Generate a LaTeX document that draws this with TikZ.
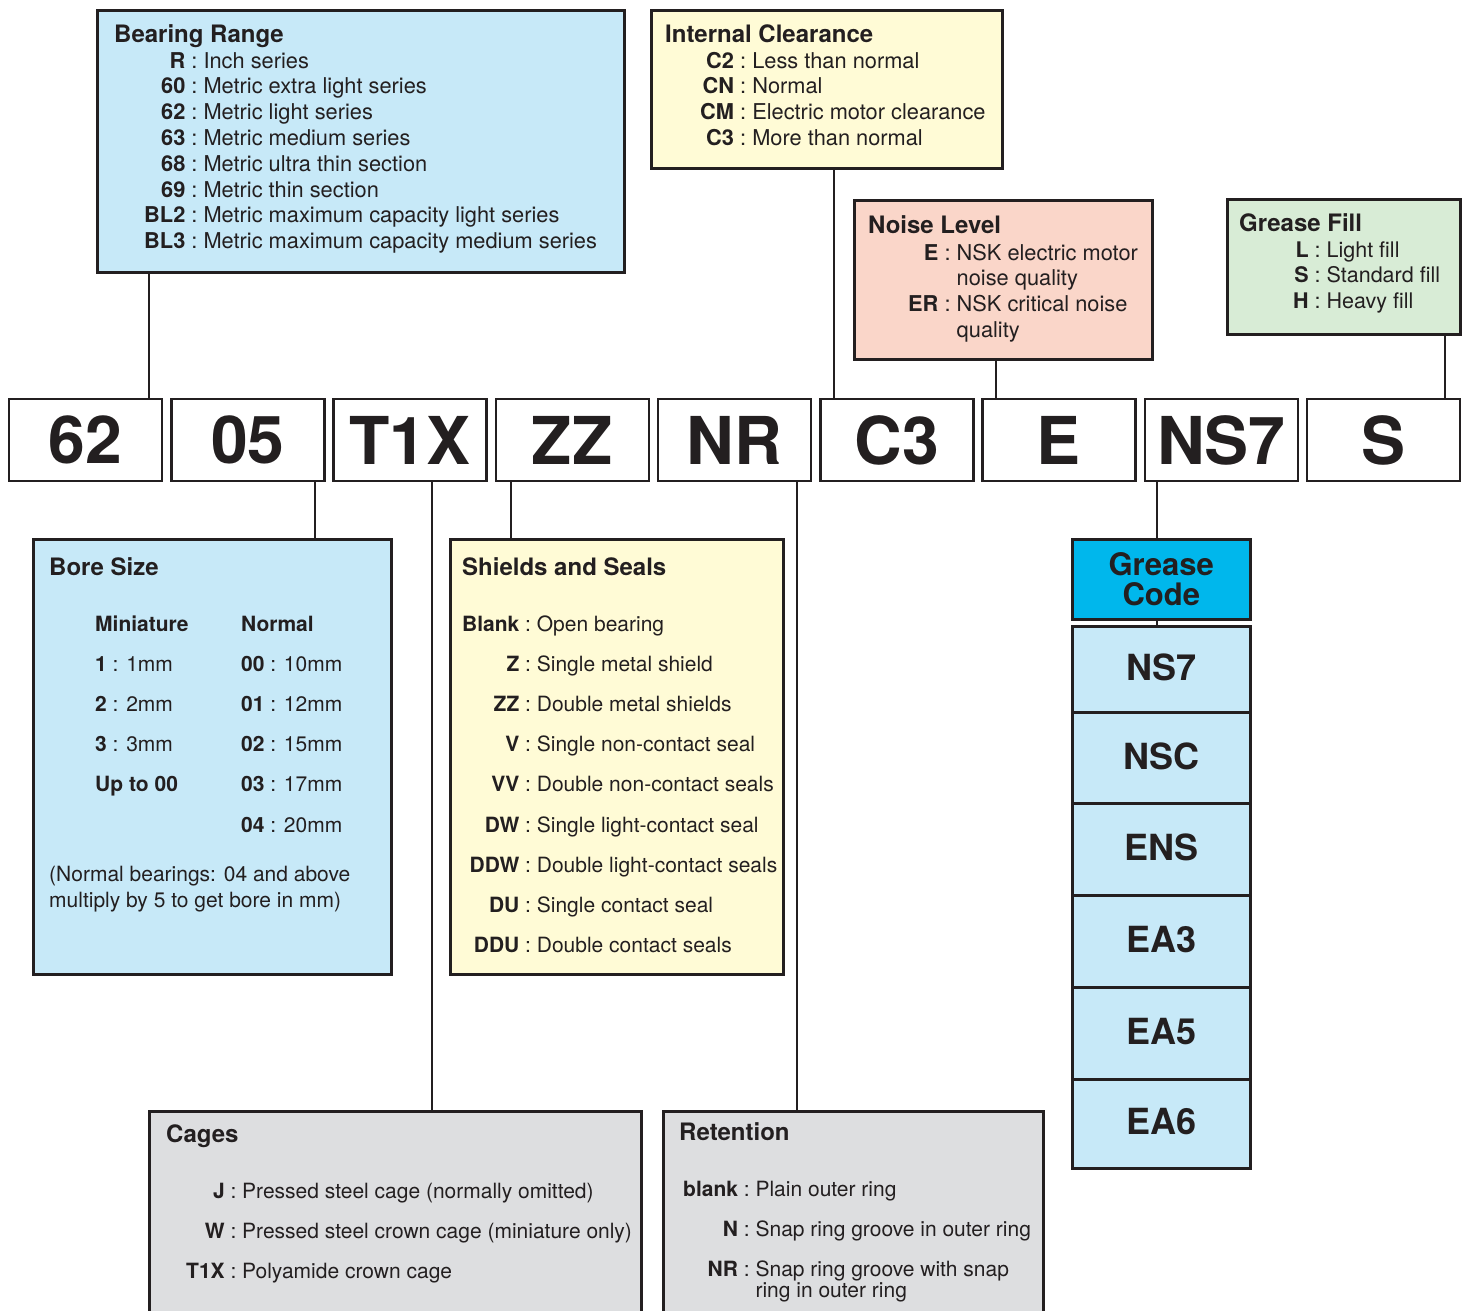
\documentclass[tikz,border=0pt]{standalone}
\usepackage{fontspec}
\setmainfont{TeX Gyre Heros}

\definecolor{rangeblue}{RGB}{199,233,248}
\definecolor{clearyellow}{RGB}{255,251,214}
\definecolor{noisepink}{RGB}{250,214,201}
\definecolor{fillgreen}{RGB}{216,236,214}
\definecolor{codecyan}{RGB}{0,183,236}
\definecolor{cagegray}{RGB}{221,222,224}
\definecolor{ink}{RGB}{35,31,32}

\newcommand{\bodyfont}{\fontsize{21.8}{25.8}\selectfont}
\newcommand{\widefont}{\fontsize{21}{40.2}\selectfont}

\tikzset{
  box/.style={draw=ink, line width=2.5pt, anchor=north west, inner sep=0pt},
  link/.style={draw=ink, line width=2pt},
  title/.style={anchor=base west, inner sep=0pt, text=ink, font=\fontsize{24}{28}\selectfont\bfseries},
  list/.style={anchor=base west, inner sep=0pt, text=ink},
  codebox/.style={draw=ink, line width=2.5pt, fill=white, minimum width=153pt, minimum height=82pt,
    inner sep=0pt, text=ink, font=\fontsize{66}{70}\selectfont\bfseries},
  cell/.style={box, fill=rangeblue, minimum width=178pt, text=ink,
    font=\fontsize{36}{40}\selectfont\bfseries}
}

\begin{document}
\begin{tikzpicture}[x=1pt, y=-1pt]

	\useasboundingbox (0,0) rectangle (1468,1310);
	\fill[white] (0,0) rectangle (1468,1310);

	% code row
	\foreach \c [count=\i from 0] in {62,05,T1X,ZZ,NR,C3,E,NS7,S}
		\node[codebox] (code\c) at ({85.5+\i*162.25},440) {\c};

	% bearing range
	\node[box, fill=rangeblue, minimum width=527pt, minimum height=262pt] (range) at (96,9) {};
	\node[title] (rangetitle) at (114,42) {Bearing Range};
	\node[list, font=\bodyfont] (rangelist) at (144,68) {\begin{tabular}[t]{@{}r@{\ :\ }l@{}}
		\textbf{R} & Inch series\\
		\textbf{60} & Metric extra light series\\
		\textbf{62} & Metric light series\\
		\textbf{63} & Metric medium series\\
		\textbf{68} & Metric ultra thin section\\
		\textbf{69} & Metric thin section\\
		\textbf{BL2} & Metric maximum capacity light series\\
		\textbf{BL3} & Metric maximum capacity medium series
	\end{tabular}};

	% internal clearance
	\node[box, fill=clearyellow, minimum width=351pt, minimum height=158pt] (clear) at (650,9) {};
	\node[title] (cleartitle) at (665,42) {Internal Clearance};
	\node[list, font=\bodyfont] (clearlist) at (700,68) {\begin{tabular}[t]{@{}r@{\ :\ }l@{}}
		\textbf{C2} & Less than normal\\
		\textbf{CN} & Normal\\
		\textbf{CM} & Electric motor clearance\\
		\textbf{C3} & More than normal
	\end{tabular}};

	% noise level
	\node[box, fill=noisepink, minimum width=298pt, minimum height=159pt] (noise) at (853,199) {};
	\node[title] (noisetitle) at (868,233) {Noise Level};
	\node[list, font=\bodyfont] (noiselist) at (908,260) {\begin{tabular}[t]{@{}r@{}l@{}}
		\textbf{E} & \ :\ NSK electric motor\\
		& \phantom{\ :\ }noise quality\\
		\textbf{ER} & \ :\ NSK critical noise\\
		& \phantom{\ :\ }quality
	\end{tabular}};

	% grease fill
	\node[box, fill=fillgreen, minimum width=233pt, minimum height=135pt] (fill) at (1226,198) {};
	\node[title] (filltitle) at (1239,231) {Grease Fill};
	\node[list, font=\fontsize{21.5}{25.5}\selectfont] (filllist) at (1293,257) {\begin{tabular}[t]{@{}r@{\ :\ }l@{}}
		\textbf{L} & Light fill\\
		\textbf{S} & Standard fill\\
		\textbf{H} & Heavy fill
	\end{tabular}};

	% bore size
	\node[box, fill=rangeblue, minimum width=358pt, minimum height=435pt] (bore) at (32,538) {};
	\node[title] (boretitle) at (49,575) {Bore Size};
	\node[list, font=\widefont] (borelist) at (95,631) {\begin{tabular}[t]{@{}p{146pt}@{}l@{}}
		\textbf{Miniature} & \textbf{Normal}\\
		\textbf{1} : 1mm & \textbf{00} : 10mm\\
		\textbf{2} : 2mm & \textbf{01} : 12mm\\
		\textbf{3} : 3mm & \textbf{02} : 15mm\\
		\textbf{Up to 00} & \textbf{03} : 17mm\\
		& \textbf{04} : 20mm
	\end{tabular}};
	\node[list, font=\fontsize{21}{26}\selectfont] (borenote) at (49,881) {\begin{tabular}[t]{@{}l@{}}
		(Normal bearings: 04 and above\\
		multiply by 5 to get bore in mm)
	\end{tabular}};

	% shields and seals
	\node[box, fill=clearyellow, minimum width=333pt, minimum height=435pt] (shield) at (449,538) {};
	\node[title] (shieldtitle) at (462,575) {Shields and Seals};
	\node[list, font=\widefont] (shieldlist) at (462,631) {\begin{tabular}[t]{@{}r@{\ :\ }l@{}}
		\textbf{Blank} & Open bearing\\
		\textbf{Z} & Single metal shield\\
		\textbf{ZZ} & Double metal shields\\
		\textbf{V} & Single non-contact seal\\
		\textbf{VV} & Double non-contact seals\\
		\textbf{DW} & Single light-contact seal\\
		\textbf{DDW} & Double light-contact seals\\
		\textbf{DU} & Single contact seal\\
		\textbf{DDU} & Double contact seals
	\end{tabular}};

	% grease code
	\node[box, fill=codecyan, minimum width=178pt, minimum height=80pt, align=center, text=ink,
		font=\fontsize{31}{32}\selectfont\bfseries] (gcode) at (1071,538) {Grease\\[-2pt]Code};
	\foreach \g/\top/\high in {NS7/625/86, NSC/711/91, ENS/802/92, EA3/894/92, EA5/986/92, EA6/1078/89}
		\node[cell, minimum height=\high pt] (g\g) at (1071,\top) {\raisebox{4pt}{\g}};

	% cages
	\node[box, fill=cagegray, minimum width=492pt, minimum height=230pt] (cages) at (148,1110) {};
	\node[title] (cagestitle) at (166,1142) {Cages};
	\node[list, font=\widefont] (cageslist) at (186,1198) {\begin{tabular}[t]{@{}r@{\ :\ }l@{}}
		\textbf{J} & Pressed steel cage (normally omitted)\\
		\textbf{W} & Pressed steel crown cage (miniature only)\\
		\textbf{T1X} & Polyamide crown cage
	\end{tabular}};

	% retention
	\node[box, fill=cagegray, minimum width=380pt, minimum height=230pt] (retain) at (662,1110) {};
	\node[title] (retaintitle) at (679,1140) {Retention};
	\node[list, font=\widefont] (retainlist) at (683,1196) {\begin{tabular}[t]{@{}r@{\ :\ }l@{}}
		\textbf{blank} & Plain outer ring\\
		\textbf{N} & Snap ring groove in outer ring\\
		\textbf{NR} & {\fontsize{21}{20}\selectfont\begin{tabular}[t]{@{}l@{}}Snap ring groove with snap\\ring in outer ring\end{tabular}}
	\end{tabular}};

	% connectors
	\coordinate (xrange) at (149,0);
	\coordinate (xclear) at (834,0);
	\coordinate (xnoise) at (996,0);
	\coordinate (xfill) at (1445,0);
	\coordinate (xbore) at (315,0);
	\coordinate (xcages) at (432,0);
	\coordinate (xshield) at (511,0);
	\coordinate (xretain) at (797,0);
	\coordinate (xgrease) at (1157,0);

	\draw[link] (range.south -| xrange) -- (code62.north -| xrange);
	\draw[link] (clear.south -| xclear) -- (codeC3.north -| xclear);
	\draw[link] (noise.south -| xnoise) -- (codeE.north -| xnoise);
	\draw[link] (fill.south -| xfill) -- (codeS.north -| xfill);
	\draw[link] (code05.south -| xbore) -- (bore.north -| xbore);
	\draw[link] (codeT1X.south -| xcages) -- (cages.north -| xcages);
	\draw[link] (codeZZ.south -| xshield) -- (shield.north -| xshield);
	\draw[link] (codeNR.south -| xretain) -- (retain.north -| xretain);
	\draw[link] (codeNS7.south -| xgrease) -- (gcode.north -| xgrease);
	\draw[link] (gcode.south -| xgrease) -- (gNS7.north -| xgrease);

\end{tikzpicture}
\end{document}
